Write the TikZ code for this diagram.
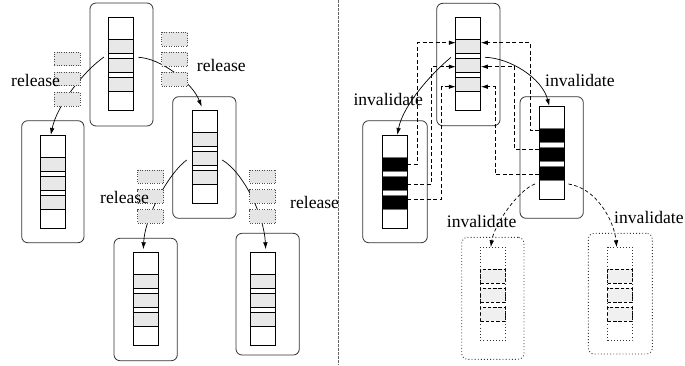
\documentclass[tikz,border=0pt]{standalone}
\usepackage{fontspec}
\setmainfont{Liberation Serif}
\usetikzlibrary{arrows.meta,calc}
\newcommand\mkbox[6]{\node[#6, minimum width={(#4)-(#2)}, minimum height={(#5)-(#3)}] (#1) at ({((#2)+(#4))/2},{((#3)+(#5))/2}) {};}
\newcommand\mkstack[5]{%
  \node[#5] (#1-1) at (#2,{#3+29}) {};
  \node[#5] (#1-2) at (#2,{#3+48}) {};
  \node[#5] (#1-3) at (#2,{#3+67}) {};
  \node[#4] (#1) at (#2,{#3+46.5}) {};}
\begin{document}
\begin{tikzpicture}[x=1pt,y=-1pt,
  bigbox/.style={draw=black!80, line width=0.8pt, rounded corners=6pt, inner sep=0pt, outer sep=0pt},
  ghostbox/.style={draw=black!80, line width=0.9pt, dash pattern=on 0.9pt off 2.2pt, rounded corners=6pt, inner sep=0pt, outer sep=0pt},
  colm/.style={draw=black, line width=0.8pt, minimum width=25pt, minimum height=93pt, inner sep=0pt, outer sep=0pt},
  colmdot/.style={colm, draw=black!80, line width=0.9pt, dash pattern=on 0.9pt off 2.2pt},
  cellg/.style={draw=black, line width=0.8pt, fill=gray!18, minimum width=25pt, minimum height=14pt, inner sep=0pt, outer sep=0pt},
  cellk/.style={cellg, fill=black, draw=black!55},
  celld/.style={cellg, fill=gray!12, line width=1pt, dash pattern=on 3.5pt off 1.8pt},
  rcell/.style={draw=black!70, line width=0.9pt, dash pattern=on 0.8pt off 1.6pt, fill=gray!20, minimum width=26pt, minimum height=13.5pt, inner sep=0pt, outer sep=0pt},
  arr/.style={line width=0.7pt, -{Latex[length=7pt,width=4.5pt]}},
  darr/.style={arr, dash pattern=on 3.5pt off 2.5pt},
  dconn/.style={line width=0.8pt, dash pattern=on 4pt off 2.5pt, -{Latex[length=7pt,width=4.5pt]}},
  lbl/.style={font=\fontsize{17.6}{20}\selectfont, inner sep=0pt, anchor=base west}]
\useasboundingbox (0,0) rectangle (685,365);
% ---------- outer boxes ----------
\mkbox{bA}{90}{3}{153}{126}{bigbox}
\mkbox{bB}{21.7}{120.7}{84}{242.7}{bigbox}
\mkbox{bC}{172.7}{96.7}{236}{218.3}{bigbox}
\mkbox{bD}{114}{238.3}{177.3}{360.7}{bigbox}
\mkbox{bE}{236}{233.3}{299.3}{355}{bigbox}
\mkbox{bF}{436.7}{3.3}{500}{125.7}{bigbox}
\mkbox{bG}{362.7}{120.7}{427.3}{242.7}{bigbox}
\mkbox{bH}{520}{96.7}{583.3}{218.3}{bigbox}
\mkbox{bI}{461.7}{237.3}{524}{359.3}{ghostbox}
\mkbox{bJ}{588.3}{233.3}{652.3}{354}{ghostbox}
% ---------- divider ----------
\coordinate (dtop) at (338.3,0);
\coordinate (dbot) at (338.3,365);
\draw[black!60, line width=0.9pt, dash pattern=on 2.5pt off 1.5pt] (dtop) -- (dbot);
% ---------- columns ----------
\mkstack{A}{121.2}{17.5}{colm}{cellg}
\mkstack{B}{52.8}{135}{colm}{cellg}
\mkstack{C}{204.5}{110.7}{colm}{cellg}
\mkstack{D}{145.8}{252.7}{colm}{cellg}
\mkstack{E}{263}{252.7}{colm}{cellg}
\mkstack{F}{468.3}{17.7}{colm}{cellg}
\mkstack{G}{394.8}{135}{colm}{cellk}
\mkstack{H}{551.7}{106}{colm}{cellk}
\mkstack{I}{492.8}{247.3}{colmdot}{celld}
\mkstack{J}{620.2}{247.3}{colmdot}{celld}
% ---------- release arrows ----------
\draw[arr] ([xshift=-4.7pt,yshift=-3.5pt]A-1.south west) .. controls (84,71) and (57,105) .. ([xshift=-2pt]B.north);
\draw[arr] ([xshift=4.6pt,yshift=-3.8pt]A-1.south east) .. controls (160,58) and (192,82) .. ([xshift=-2.8pt,yshift=4pt]C.north);
\draw[arr] ([xshift=-5.3pt,yshift=-1.3pt]C-2.west) .. controls (170,172) and (145,215) .. ([xshift=-2.5pt,yshift=3.4pt]D.north);
\draw[arr] ([xshift=5.2pt,yshift=-1.3pt]C-2.east) .. controls (243,172) and (264,215) .. ([xshift=2.7pt,yshift=3.4pt]E.north);
% ---------- released cells ----------
\node[rcell] (r1a) at (67.2,59) {};
\node[rcell] (r1b) at (67.2,79) {};
\node[rcell] (r1c) at (67.2,99.2) {};
\node[rcell] (r2a) at (174.5,39.2) {};
\node[rcell] (r2b) at (174.5,59.2) {};
\node[rcell] (r2c) at (174.5,79.2) {};
\node[rcell] (r3a) at (150.5,176.7) {};
\node[rcell] (r3b) at (150.5,196.5) {};
\node[rcell] (r3c) at (150.5,216.3) {};
\node[rcell] (r4a) at (262.8,176.7) {};
\node[rcell] (r4b) at (262.8,196.5) {};
\node[rcell] (r4c) at (262.8,216.3) {};
% ---------- invalidation connectors ----------
\draw[dconn] (G-1.east) -- ++(10,0) |- ([yshift=4pt]F-1.west);
\draw[dconn] ([yshift=5pt]H-1.west) -- ++(-9.3,0) |- ([yshift=4pt]F-1.east);
\draw[dconn] ([yshift=-1pt]G-2.east) -- ++(24.4,0) |- ([yshift=-1pt]F-2.west);
\draw[dconn] ([yshift=4.5pt]H-2.west) -- ++(-24.8,0) |- ([yshift=-1pt]F-2.east);
\draw[dconn] ([yshift=3pt]G-3.east) -- ++(34.4,0) |- ([yshift=-2pt]F-3.west);
\draw[dconn] ([yshift=-1.3pt]H-3.west) -- ++(-44.3,0) |- ([yshift=-2pt]F-3.east);
\draw[arr] ([xshift=-4.8pt,yshift=-3.6pt]F-1.south west) .. controls (432,73) and (403,105) .. ([xshift=2.5pt]G.north);
\draw[arr] ([xshift=4.2pt,yshift=-3.6pt]F-1.south east) .. controls (510,58) and (542,78) .. ([xshift=-2.4pt]H.north);
\draw[darr] ([xshift=-4.2pt,yshift=-11pt]H-3.west) .. controls (518,190) and (494,225) .. ([xshift=-2pt]I.north);
\draw[darr] ([xshift=4.2pt,yshift=-11pt]H-3.east) .. controls (596,188) and (614,220) .. ([xshift=-3.5pt]J.north);
% ---------- labels ----------
\node[lbl] (l1) at (11,86.5) {release};
\node[lbl] (l2) at (196.7,71.7) {release};
\node[lbl] (l3) at (100,203.3) {release};
\node[lbl] (l4) at (290,208.3) {release};
\node[lbl] (l5) at (353.3,105) {invalidate};
\node[lbl] (l6) at (545,86) {invalidate};
\node[lbl] (l7) at (446.7,227.3) {invalidate};
\node[lbl] (l8) at (614,223.3) {invalidate};
\end{tikzpicture}
\end{document}
